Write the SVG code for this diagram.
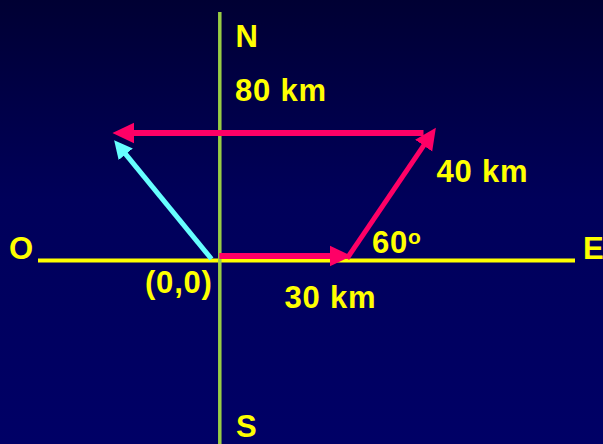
<svg xmlns="http://www.w3.org/2000/svg" width="603" height="444" viewBox="0 0 603 444">
<defs>
<linearGradient id="bg" x1="0" y1="0" x2="0" y2="1">
<stop offset="0" stop-color="#000033"/>
<stop offset="0.45" stop-color="#00005a"/>
<stop offset="1" stop-color="#000066"/>
</linearGradient>
<marker id="headPink" markerUnits="userSpaceOnUse" markerWidth="24" markerHeight="24" viewBox="0 -10 21 20" refX="1" refY="0" orient="auto">
<path d="M0,-9 L19,0 L0,9 z" fill="#ff0066"/>
</marker>
<marker id="headCyan" markerUnits="userSpaceOnUse" markerWidth="24" markerHeight="24" viewBox="0 -10 21 20" refX="1" refY="0" orient="auto">
<path d="M0,-8 L16,0 L0,8 z" fill="#66ffff"/>
</marker>
<style>
.lbl{font-family:"Liberation Sans",Arial,sans-serif;font-weight:bold;font-size:31px;letter-spacing:0.8px;fill:#ffff00}
.pink{stroke:#ff0066;stroke-width:6;fill:none}
.cyan{stroke:#66ffff;stroke-width:5;fill:none}
</style>
</defs>
<rect x="0" y="0" width="603" height="444" fill="url(#bg)"/>
<g id="axes">
<line x1="38" y1="260.5" x2="575" y2="260.5" stroke="#ffff00" stroke-width="4"/>
<line x1="219.8" y1="12" x2="219.8" y2="444" stroke="#99cc44" stroke-width="3.5"/>
</g>
<g id="connectors">
<line id="resultant" class="cyan" x1="211.5" y1="259" x2="125" y2="153.4" marker-end="url(#headCyan)"/>
<line id="leg1" class="pink" x1="219.3" y1="256" x2="331" y2="256" marker-end="url(#headPink)"/>
<line id="leg2" class="pink" style="stroke-width:5" x1="347" y1="258.5" x2="424.3" y2="144.7" marker-end="url(#headPink)"/>
<line id="leg3" class="pink" x1="423.5" y1="133" x2="133" y2="133" marker-end="url(#headPink)"/>
</g>
<g id="labels">
<text class="lbl" x="235.5" y="46.5">N</text>
<text class="lbl" x="235" y="100.5">80 km</text>
<text class="lbl" x="9" y="259">O</text>
<text class="lbl" x="583" y="259">E</text>
<text class="lbl" x="145" y="293">(0,0)</text>
<text class="lbl" x="284.5" y="308">30 km</text>
<text class="lbl" x="372" y="253">60<tspan font-size="21" dy="-9">o</tspan></text>
<text class="lbl" x="436.5" y="181.5">40 km</text>
<text class="lbl" x="236" y="437">S</text>
</g>
</svg>
